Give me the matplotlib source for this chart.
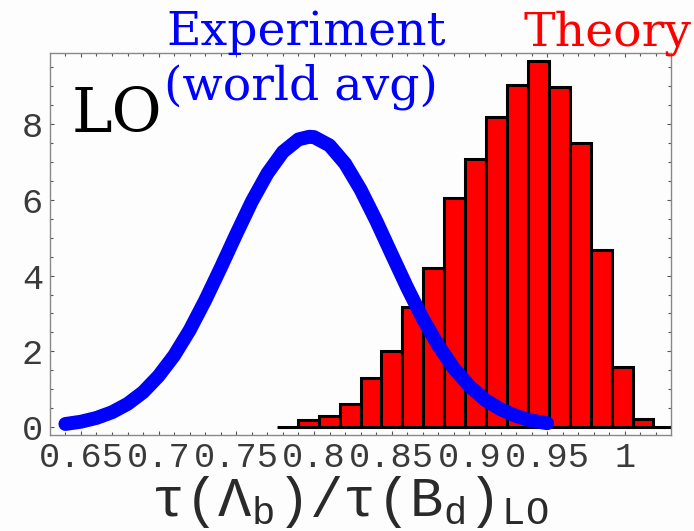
import numpy as np
import matplotlib
matplotlib.use("Agg")
import matplotlib.pyplot as plt
from matplotlib.ticker import MultipleLocator, FixedLocator

# ---------------- data ----------------
# Theory: histogram (probability density), bins of equal width
hist_first_edge = 0.7761
hist_bin_width = 0.01346
hist_heights = [0.0, 0.18, 0.28, 0.62, 1.29, 2.00, 3.18, 4.21, 6.05, 7.07,
                8.18, 9.03, 9.66, 8.98, 7.50, 4.68, 1.58, 0.22, 0.0]

# Experiment (world average): density curve
exp_x = [0.64, 0.65, 0.66, 0.67, 0.68, 0.69, 0.70, 0.71, 0.72, 0.73, 0.74,
         0.75, 0.76, 0.77, 0.78, 0.79, 0.797, 0.80, 0.81, 0.82, 0.83, 0.84,
         0.85, 0.86, 0.87, 0.88, 0.89, 0.90, 0.91, 0.92, 0.93, 0.94, 0.95]
exp_y = [0.08, 0.14, 0.24, 0.39, 0.61, 0.92, 1.35, 1.89, 2.56, 3.35, 4.21,
         5.10, 5.96, 6.70, 7.27, 7.60, 7.67, 7.66, 7.44, 6.96, 6.27, 5.45,
         4.56, 3.68, 2.86, 2.15, 1.55, 1.08, 0.72, 0.47, 0.29, 0.17, 0.10]

x_ticks = [0.65, 0.70, 0.75, 0.80, 0.85, 0.90, 0.95, 1.00]
x_tick_labels = ["0.65", "0.7", "0.75", "0.8", "0.85", "0.9", "0.95", "1"]
y_ticks = [0, 2, 4, 6, 8]
y_tick_labels = ["0", "2", "4", "6", "8"]

# ---------------- figure ----------------
W, H = 694, 531
fig = plt.figure(figsize=(W / 100, H / 100), dpi=100)
fig.patch.set_facecolor("#fdfdfd")

ax = fig.add_axes([50 / W, 1 - 435 / H, (670.7 - 50) / W, (435 - 52.7) / H])
ax.set_facecolor("#fdfdfd")

n_bins = len(hist_heights)
left_edges = hist_first_edge + hist_bin_width * np.arange(n_bins)
ax.bar(left_edges, hist_heights, width=hist_bin_width, align="edge",
       color="#ff0000", edgecolor="black", linewidth=2.2, zorder=2)

ax.plot(exp_x, exp_y, color="#0000ff", linewidth=10,
        solid_capstyle="round", solid_joinstyle="round", zorder=3)

ax.set_xlim(0.6301, 1.0295)
ax.set_ylim(-0.211, 9.89)

ax.xaxis.set_major_locator(FixedLocator(x_ticks))
ax.set_xticklabels(x_tick_labels)
ax.xaxis.set_minor_locator(MultipleLocator(0.01))
ax.yaxis.set_major_locator(FixedLocator(y_ticks))
ax.set_yticklabels(y_tick_labels)
ax.yaxis.set_minor_locator(MultipleLocator(0.5))

mono = "Liberation Mono"
for lab in ax.get_xticklabels() + ax.get_yticklabels():
    lab.set_fontfamily(mono)
    lab.set_fontsize(25.5)
    lab.set_color("#3a3a3a")

ax.tick_params(which="both", direction="in", top=True, right=True,
               color="#555555", width=0.8)
ax.tick_params(which="major", length=3.2)
ax.tick_params(which="minor", length=2.0)
ax.tick_params(axis="x", which="major", pad=4)
ax.tick_params(axis="y", which="major", pad=5)
for s in ax.spines.values():
    s.set_color("#888888")
    s.set_linewidth(1.0)

plt.rcParams["mathtext.fontset"] = "custom"
plt.rcParams["mathtext.rm"] = mono
plt.rcParams["mathtext.it"] = mono

fig.text(350 / W, 1 - 516 / H,
         r"$\mathrm{\tau(\Lambda_b)/\tau(B_d)_{LO}}$",
         fontsize=40, ha="center", va="baseline", color="#2a2a2a")

serif = "DejaVu Serif"
fig.text(166 / W, 1 - 45 / H, "Experiment", family=serif, fontsize=34,
         color="#0000ff", ha="left", va="baseline")
fig.text(164 / W, 1 - 100 / H, "(world avg)", family=serif, fontsize=34,
         color="#0000ff", ha="left", va="baseline")
fig.text(524 / W, 1 - 46 / H, "Theory", family=serif, fontsize=34,
         color="#ff0000", ha="left", va="baseline")
fig.text(72 / W, 1 - 131.7 / H, "LO", family=serif, fontsize=44,
         color="black", ha="left", va="baseline")

fig.savefig("out.png", dpi=100, facecolor=fig.get_facecolor())
